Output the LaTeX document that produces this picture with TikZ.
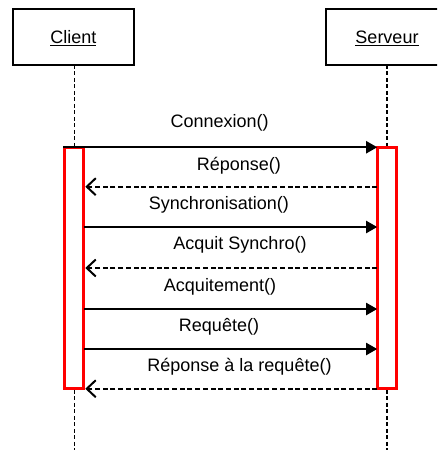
\documentclass[tikz,border=0pt]{standalone}
\usepackage{fontspec}
\setmainfont{Liberation Sans}
\usetikzlibrary{arrows.meta}
\begin{document}
\begin{tikzpicture}[x=1pt,y=1pt,
  objbox/.style={draw, line width=2pt, minimum width=121.5pt, minimum height=55.6pt, inner sep=0pt, outer sep=0pt},
  lbl/.style={anchor=base, inner sep=0pt, font=\fontsize{18}{21}\selectfont},
  lifeline/.style={line width=1.6pt, dash pattern=on 4pt off 2.5pt},
  actbox/.style={draw=red, line width=3.3pt, fill=white, minimum width=19pt, minimum height=241.5pt, inner sep=0pt, outer sep=0pt},
  callmsg/.style={line width=2pt, -{Triangle[length=11pt,width=12pt]}},
  retmsg/.style={line width=2pt, dash pattern=on 5pt off 2.7pt, -{Straight Barb[length=9pt,width=17pt]}, shorten >=1.5pt},
]
\useasboundingbox (0,0) rectangle (437,-450);
\clip (0,0) rectangle (437,-450);
\fill[white] (0,0) rectangle (437,-450);
% objects
\node[objbox] (client) at (73.4,-37) {};
\node[objbox] (server) at (387,-37) {};
\node[lbl] (clientlbl) at (73.4,-43.3) {\underline{Client}};
\node[lbl] (serverlbl) at (387,-43.3) {\underline{Serveur}};
% lifeline ends
\coordinate (cend) at (74.3,-450);
\coordinate (send) at (386.7,-450);
% lifelines
\draw[lifeline] (cend |- client.south) -- (cend);
\draw[lifeline] (send |- server.south) -- (send);
% activations
\node[actbox] (cact) at (74.3,-268) {};
\node[actbox] (sact) at (386.7,-268) {};
% messages
\draw[callmsg, shorten <=-1.5pt] (cact.north west) -- (sact.north west);
\node[lbl] (m1) at (219.7,-127.7) {Connexion()};
\draw[retmsg] (sact.west |- 0,-186.7) -- (cact.east |- 0,-186.7);
\node[lbl] (m2) at (238.8,-170) {Réponse()};
\draw[callmsg] (cact.east |- 0,-227) -- (sact.west |- 0,-227);
\node[lbl] (m3) at (218.8,-209.3) {Synchronisation()};
\draw[retmsg] (sact.west |- 0,-268) -- (cact.east |- 0,-268);
\node[lbl] (m4) at (240,-249.3) {Acquit Synchro()};
\draw[callmsg] (cact.east |- 0,-309) -- (sact.west |- 0,-309);
\node[lbl] (m5) at (220,-291) {Acquitement()};
\draw[callmsg] (cact.east |- 0,-349) -- (sact.west |- 0,-349);
\node[lbl] (m6) at (219,-331) {Requête()};
\draw[retmsg] (sact.south west) -- (cact.south east);
\node[lbl] (m7) at (239.5,-371) {Réponse à la requête()};
\end{tikzpicture}
\end{document}
